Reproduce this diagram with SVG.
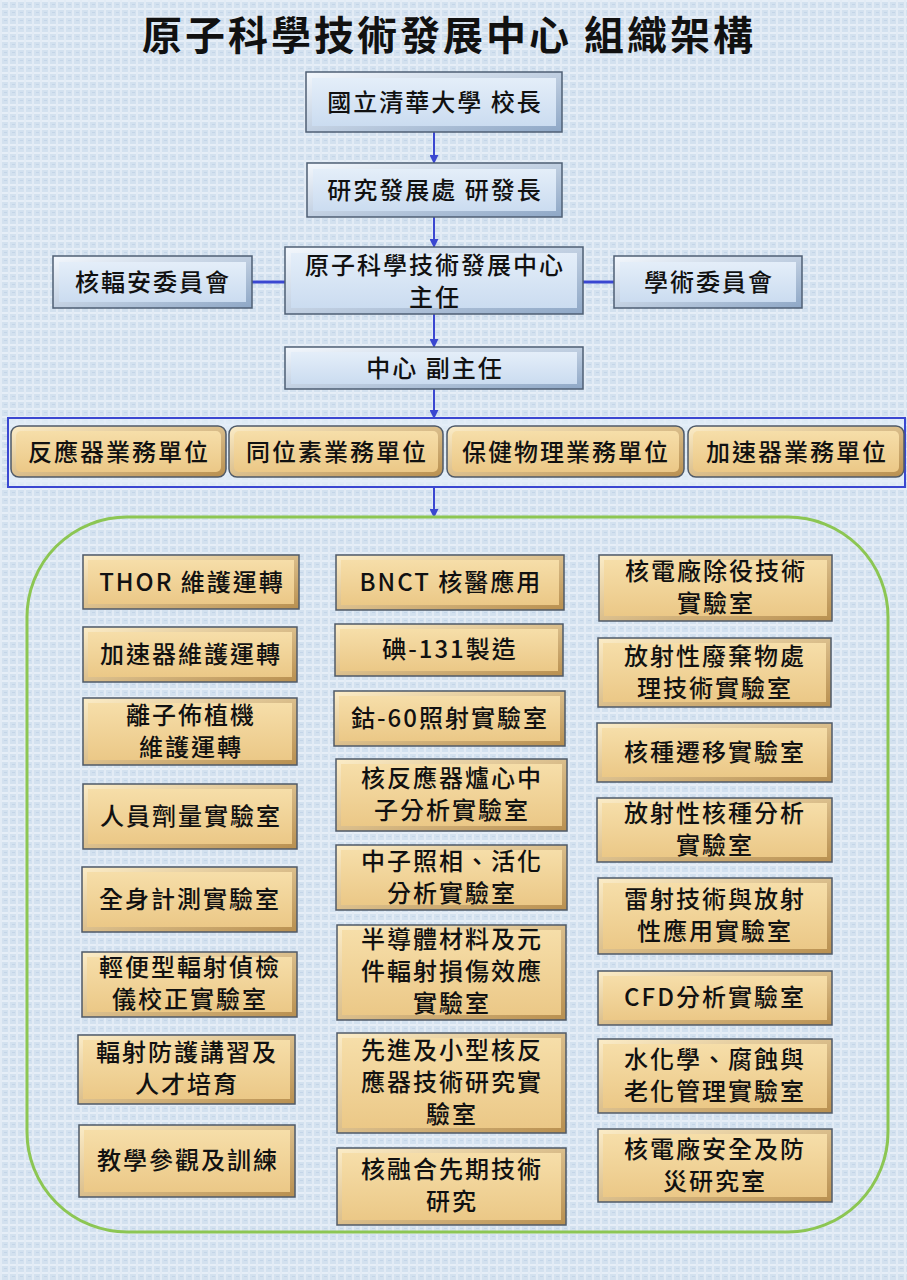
<svg xmlns="http://www.w3.org/2000/svg" width="907" height="1280" viewBox="0 0 907 1280">
<defs>
<pattern id="tex" width="8" height="8" patternUnits="userSpaceOnUse">
<rect width="8" height="8" fill="#d3e1ef"/>
<rect x="0" y="0" width="8" height="2" fill="#e6eef7"/>
<rect x="0" y="0" width="2" height="8" fill="#e2ebf5"/>
<rect x="4" y="4" width="3" height="1" fill="#c4d5e8"/>
</pattern>
<linearGradient id="bevB" x1="0" y1="0" x2="1" y2="1">
<stop offset="0" stop-color="#f4f8fd"/>
<stop offset="1" stop-color="#8ea7c6"/>
</linearGradient>
<linearGradient id="faceB" x1="0" y1="0" x2="0" y2="1">
<stop offset="0" stop-color="#e4eef9"/>
<stop offset="1" stop-color="#cbdcf0"/>
</linearGradient>
<linearGradient id="bevT" x1="0" y1="0" x2="1" y2="1">
<stop offset="0" stop-color="#fcedc8"/>
<stop offset="1" stop-color="#b88f4f"/>
</linearGradient>
<linearGradient id="faceT" x1="0" y1="0" x2="0" y2="1">
<stop offset="0" stop-color="#f6dea9"/>
<stop offset="1" stop-color="#ebc887"/>
</linearGradient>
<marker id="ah" viewBox="0 0 10 10" refX="9" refY="5" markerWidth="4.5" markerHeight="4.5" orient="auto">
<path d="M0,0 L10,5 L0,10 z" fill="#3a47d1"/>
</marker>
</defs>
<style>
.ob{fill:url(#bevB);stroke:#4f5f74;stroke-width:1.5}
.fb{fill:url(#faceB)}
.ot{fill:url(#bevT);stroke:#4f5a68;stroke-width:1.5}
.ft{fill:url(#faceT)}
text{font-family:"Noto Sans CJK TC","Noto Sans CJK SC",sans-serif;fill:#111;text-anchor:middle;font-weight:500}
.t{font-size:24px;letter-spacing:2px}
.title{font-size:40px;font-weight:bold;letter-spacing:3px}
.arrow{stroke:#3a47d1;stroke-width:2;fill:none;marker-end:url(#ah)}
.link{stroke:#3a47d1;stroke-width:3;fill:none}
</style>
<rect width="907" height="1280" fill="url(#tex)"/>

<text class="title" x="449" y="50">原子科學技術發展中心 組織架構</text>

<g id="connectors">
<line class="arrow" x1="434" y1="132" x2="434" y2="163"/>
<line class="arrow" x1="434" y1="217" x2="434" y2="247"/>
<line class="arrow" x1="434" y1="314" x2="434" y2="347"/>
<line class="arrow" x1="434" y1="389" x2="434" y2="418"/>
<line class="arrow" x1="434" y1="487" x2="434" y2="517"/>
<line class="link" x1="252" y1="282" x2="285" y2="282"/>
<line class="link" x1="583" y1="282" x2="614" y2="282"/>
</g>

<g id="president">
<rect class="ob" x="306" y="72" width="256" height="60"/><rect class="fb" x="312" y="78" width="244" height="48"/>
<text class="t" x="435" y="111">國立清華大學 校長</text>
</g>
<g id="rd-office">
<rect class="ob" x="307" y="163" width="255" height="54"/><rect class="fb" x="313" y="169" width="243" height="42"/>
<text class="t" x="435" y="199">研究發展處 研發長</text>
</g>
<g id="director">
<rect class="ob" x="285" y="247" width="298" height="67"/><rect class="fb" x="291" y="253" width="286" height="55"/>
<text class="t" x="435" y="274">原子科學技術發展中心</text>
<text class="t" x="435" y="306">主任</text>
</g>
<g id="safety-committee">
<rect class="ob" x="53" y="256" width="199" height="52"/><rect class="fb" x="59" y="262" width="187" height="40"/>
<text class="t" x="153" y="291">核輻安委員會</text>
</g>
<g id="academic-committee">
<rect class="ob" x="614" y="256" width="188" height="52"/><rect class="fb" x="620" y="262" width="176" height="40"/>
<text class="t" x="709" y="291">學術委員會</text>
</g>
<g id="deputy">
<rect class="ob" x="285" y="347" width="298" height="42"/><rect class="fb" x="291" y="352" width="286" height="32"/>
<text class="t" x="435" y="377">中心 副主任</text>
</g>

<g id="units">
<rect x="8" y="418" width="897" height="69" fill="#e3edf8" fill-opacity="0.75" stroke="#3a47d1" stroke-width="2"/>
<g id="unit-reactor"><rect class="ot" x="11" y="426" width="215" height="51" rx="8"/><rect class="ft" x="16" y="431" width="205" height="41" rx="5"/><text class="t" x="119" y="461">反應器業務單位</text></g>
<g id="unit-isotope"><rect class="ot" x="229" y="426" width="214" height="51" rx="8"/><rect class="ft" x="234" y="431" width="204" height="41" rx="5"/><text class="t" x="337" y="461">同位素業務單位</text></g>
<g id="unit-health"><rect class="ot" x="447" y="426" width="237" height="51" rx="8"/><rect class="ft" x="452" y="431" width="227" height="41" rx="5"/><text class="t" x="566" y="461">保健物理業務單位</text></g>
<g id="unit-accel"><rect class="ot" x="688" y="426" width="216" height="51" rx="8"/><rect class="ft" x="693" y="431" width="206" height="41" rx="5"/><text class="t" x="797" y="461">加速器業務單位</text></g>
</g>

<rect id="labs-frame" x="27" y="517" width="861" height="715" rx="100" fill="none" stroke="#8cc653" stroke-width="3"/>

<g id="L1"><rect class="ot" x="83" y="555" width="216" height="54"/><rect class="ft" x="88" y="560" width="206" height="44"/><text class="t" x="192" y="591">THOR 維護運轉</text></g>
<g id="L2"><rect class="ot" x="83" y="627" width="214" height="55"/><rect class="ft" x="88" y="632" width="204" height="45"/><text class="t" x="191" y="663">加速器維護運轉</text></g>
<g id="L3"><rect class="ot" x="83" y="698" width="214" height="67"/><rect class="ft" x="88" y="703" width="204" height="57"/><text class="t" x="191" y="724">離子佈植機</text><text class="t" x="191" y="756">維護運轉</text></g>
<g id="L4"><rect class="ot" x="83" y="784" width="214" height="65"/><rect class="ft" x="88" y="789" width="204" height="55"/><text class="t" x="191" y="825">人員劑量實驗室</text></g>
<g id="L5"><rect class="ot" x="82" y="867" width="215" height="65"/><rect class="ft" x="87" y="872" width="205" height="55"/><text class="t" x="190" y="908">全身計測實驗室</text></g>
<g id="L6"><rect class="ot" x="82" y="952" width="215" height="65"/><rect class="ft" x="87" y="957" width="205" height="55"/><text class="t" x="190" y="976">輕便型輻射偵檢</text><text class="t" x="190" y="1008">儀校正實驗室</text></g>
<g id="L7"><rect class="ot" x="78" y="1035" width="217" height="69"/><rect class="ft" x="83" y="1040" width="207" height="59"/><text class="t" x="187" y="1061">輻射防護講習及</text><text class="t" x="187" y="1093">人才培育</text></g>
<g id="L8"><rect class="ot" x="79" y="1125" width="216" height="72"/><rect class="ft" x="84" y="1130" width="206" height="62"/><text class="t" x="188" y="1169">教學參觀及訓練</text></g>

<g id="M1"><rect class="ot" x="336" y="555" width="228" height="55"/><rect class="ft" x="341" y="560" width="218" height="45"/><text class="t" x="451" y="591">BNCT 核醫應用</text></g>
<g id="M2"><rect class="ot" x="335" y="624" width="228" height="52"/><rect class="ft" x="340" y="629" width="218" height="42"/><text class="t" x="450" y="658">碘-131製造</text></g>
<g id="M3"><rect class="ot" x="334" y="691" width="231" height="55"/><rect class="ft" x="339" y="696" width="221" height="45"/><text class="t" x="450" y="727">鈷-60照射實驗室</text></g>
<g id="M4"><rect class="ot" x="336" y="759" width="231" height="72"/><rect class="ft" x="341" y="764" width="221" height="62"/><text class="t" x="452" y="787">核反應器爐心中</text><text class="t" x="452" y="819">子分析實驗室</text></g>
<g id="M5"><rect class="ot" x="336" y="845" width="231" height="65"/><rect class="ft" x="341" y="850" width="221" height="55"/><text class="t" x="452" y="870">中子照相、活化</text><text class="t" x="452" y="902">分析實驗室</text></g>
<g id="M6"><rect class="ot" x="337" y="925" width="229" height="95"/><rect class="ft" x="342" y="930" width="219" height="85"/><text class="t" x="452" y="948">半導體材料及元</text><text class="t" x="452" y="980">件輻射損傷效應</text><text class="t" x="452" y="1012">實驗室</text></g>
<g id="M7"><rect class="ot" x="337" y="1033" width="229" height="100"/><rect class="ft" x="342" y="1038" width="219" height="90"/><text class="t" x="452" y="1059">先進及小型核反</text><text class="t" x="452" y="1091">應器技術研究實</text><text class="t" x="452" y="1123">驗室</text></g>
<g id="M8"><rect class="ot" x="337" y="1148" width="229" height="77"/><rect class="ft" x="342" y="1153" width="219" height="67"/><text class="t" x="452" y="1178">核融合先期技術</text><text class="t" x="452" y="1210">研究</text></g>

<g id="R1"><rect class="ot" x="599" y="555" width="233" height="66"/><rect class="ft" x="604" y="560" width="223" height="56"/><text class="t" x="716" y="580">核電廠除役技術</text><text class="t" x="716" y="612">實驗室</text></g>
<g id="R2"><rect class="ot" x="598" y="638" width="233" height="69"/><rect class="ft" x="603" y="643" width="223" height="59"/><text class="t" x="715" y="665">放射性廢棄物處</text><text class="t" x="715" y="697">理技術實驗室</text></g>
<g id="R3"><rect class="ot" x="597" y="723" width="235" height="59"/><rect class="ft" x="602" y="728" width="225" height="49"/><text class="t" x="715" y="761">核種遷移實驗室</text></g>
<g id="R4"><rect class="ot" x="597" y="798" width="235" height="64"/><rect class="ft" x="602" y="803" width="225" height="54"/><text class="t" x="715" y="822">放射性核種分析</text><text class="t" x="715" y="854">實驗室</text></g>
<g id="R5"><rect class="ot" x="598" y="878" width="234" height="76"/><rect class="ft" x="603" y="883" width="224" height="66"/><text class="t" x="715" y="908">雷射技術與放射</text><text class="t" x="715" y="940">性應用實驗室</text></g>
<g id="R6"><rect class="ot" x="598" y="971" width="234" height="54"/><rect class="ft" x="603" y="976" width="224" height="44"/><text class="t" x="715" y="1006">CFD分析實驗室</text></g>
<g id="R7"><rect class="ot" x="598" y="1039" width="234" height="74"/><rect class="ft" x="603" y="1044" width="224" height="64"/><text class="t" x="715" y="1068">水化學、腐蝕與</text><text class="t" x="715" y="1100">老化管理實驗室</text></g>
<g id="R8"><rect class="ot" x="598" y="1129" width="234" height="73"/><rect class="ft" x="603" y="1134" width="224" height="63"/><text class="t" x="715" y="1158">核電廠安全及防</text><text class="t" x="715" y="1190">災研究室</text></g>
</svg>
